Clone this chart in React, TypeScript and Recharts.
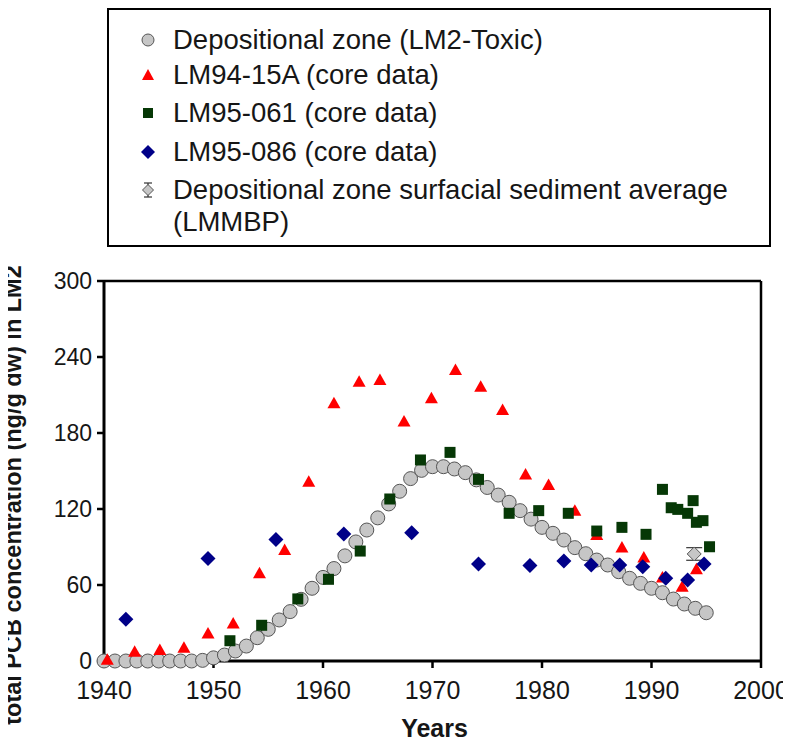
import React from "react";
import {
  ScatterChart,
  Scatter,
  XAxis,
  YAxis,
  ErrorBar,
  ReferenceLine,
  Legend,
  Label,
} from "recharts";

const FONT = '"Liberation Sans", Arial, Helvetica, sans-serif';
const TEXT = "#161616";

// Depositional zone model (LM2-Toxic), yearly
const modelYears = [
  1940, 1941, 1942, 1943, 1944, 1945, 1946, 1947, 1948, 1949,
  1950, 1951, 1952, 1953, 1954, 1955, 1956, 1957, 1958, 1959,
  1960, 1961, 1962, 1963, 1964, 1965, 1966, 1967, 1968, 1969,
  1970, 1971, 1972, 1973, 1974, 1975, 1976, 1977, 1978, 1979,
  1980, 1981, 1982, 1983, 1984, 1985, 1986, 1987, 1988, 1989,
  1990, 1991, 1992, 1993, 1994, 1995,
];
const modelValues = [
  0, 0, 0, 0, 0, 0, 0, 0, 0, 0.5,
  2.5, 4.7, 7.9, 11.8, 18.4, 25, 32.4, 39, 48.7, 57.4,
  66, 73, 83, 94, 103.4, 113, 124, 134, 144, 150.5,
  153.4, 153.4, 151.6, 148.7, 143, 137, 131, 125.3, 118.7, 112,
  105.5, 100.8, 95.5, 89.5, 84.7, 79.7, 75.8, 70.5, 65.3, 61.3,
  57.4, 53.9, 48.9, 45, 41.6, 38.1,
];

// Core LM94-15A
const coreAYears = [
  1940.3, 1942.8, 1945.1, 1947.3, 1949.5, 1951.8, 1954.2, 1956.5, 1958.7,
  1961, 1963.3, 1965.2, 1967.4, 1969.9, 1972.1, 1974.4, 1976.4, 1978.5,
  1980.6, 1983, 1985, 1987.3, 1989.3, 1991, 1992.8, 1994.1,
];
const coreAValues = [
  1, 7.4, 8.7, 10.5, 21.8, 29.7, 69.2, 87.6, 141.5,
  203.4, 220.5, 221.8, 189, 207.4, 229.7, 216.6, 198.2, 147.2,
  139, 118.7, 99.5, 89.7, 81.8, 66, 58.7, 72.4,
];

// Core LM95-061
const coreBYears = [
  1951.5, 1954.4, 1957.7, 1960.5, 1963.4, 1966.1, 1968.9, 1971.6, 1974.2,
  1977, 1979.7, 1982.4, 1985, 1987.3, 1989.5, 1991, 1991.8, 1992.4,
  1993.3, 1993.8, 1994.1, 1994.7, 1995.3,
];
const coreBValues = [
  16, 28.2, 49, 64.5, 86.8, 127.9, 158.7, 164.7, 143.4,
  116.6, 118.7, 116.6, 102.6, 105.5, 100, 135.5, 121, 119.7,
  116.6, 126.6, 109.5, 110.8, 90.2,
];

// Core LM95-086
const coreCYears = [
  1942, 1949.5, 1955.7, 1961.9, 1968.1, 1974.2, 1978.9, 1982, 1984.5,
  1987.1, 1989.2, 1991.3, 1993.3, 1994.8,
];
const coreCValues = [
  32.9, 81, 96, 100.3, 101.3, 76.6, 75.3, 79, 75.8,
  75.8, 74.5, 65.3, 64, 76.6,
];

// LMMBP surficial sediment average with its spread
const surfYears = [1993.9];
const surfValues = [84.5];
const surfErrors = [5];

const xTicks = [1940, 1950, 1960, 1970, 1980, 1990, 2000];
const yTicks = [0, 60, 120, 180, 240, 300];

const seriesLabels = [
  "Depositional zone (LM2-Toxic)",
  "LM94-15A (core data)",
  "LM95-061 (core data)",
  "LM95-086 (core data)",
  "Depositional zone surfacial sediment average (LMMBP)",
];

const toPoints = (xs: number[], ys: number[]) =>
  xs.map((x, i) => ({ year: x, v: ys[i] }));

const modelData = toPoints(modelYears, modelValues);
const coreAData = toPoints(coreAYears, coreAValues);
const coreBData = toPoints(coreBYears, coreBValues);
const coreCData = toPoints(coreCYears, coreCValues);
const surfData = surfYears.map((x, i) => ({
  year: x,
  v: surfValues[i],
  err: surfErrors[i],
}));

const GREY = "#c6c6c6";
const GREY_EDGE = "#555";
const RED = "#ff0000";
const GREEN = "#063806";
const NAVY = "#000088";

const CircleShape = (p: any) => (
  <circle cx={p.cx} cy={p.cy} r={7} fill={GREY} stroke={GREY_EDGE} strokeWidth={1} />
);
const TriangleShape = (p: any) => (
  <polygon
    points={`${p.cx},${p.cy - 6.5} ${p.cx - 6.5},${p.cy + 5} ${p.cx + 6.5},${p.cy + 5}`}
    fill={RED}
  />
);
const SquareShape = (p: any) => (
  <rect x={p.cx - 5.5} y={p.cy - 5.5} width={11} height={11} fill={GREEN} />
);
const DiamondShape = (p: any) => (
  <polygon
    points={`${p.cx},${p.cy - 7.5} ${p.cx + 7.5},${p.cy} ${p.cx},${p.cy + 7.5} ${p.cx - 7.5},${p.cy}`}
    fill={NAVY}
  />
);
const GreyDiamondShape = (p: any) => (
  <polygon
    points={`${p.cx},${p.cy - 7} ${p.cx + 7},${p.cy} ${p.cx},${p.cy + 7} ${p.cx - 7},${p.cy}`}
    fill={GREY}
    stroke={GREY_EDGE}
    strokeWidth={1}
  />
);

const legendMarkers = [
  <circle cx={8} cy={8} r={6} fill={GREY} stroke={GREY_EDGE} strokeWidth={1} />,
  <polygon points="8,2 2,13 14,13" fill={RED} />,
  <rect x={3} y={3} width={10} height={10} fill={GREEN} />,
  <polygon points="8,1 15,8 8,15 1,8" fill={NAVY} />,
  <g>
    <line x1={4} y1={1} x2={12} y2={1} stroke="#333" strokeWidth={1.2} />
    <line x1={4} y1={15} x2={12} y2={15} stroke="#333" strokeWidth={1.2} />
    <line x1={8} y1={1} x2={8} y2={15} stroke="#333" strokeWidth={1.2} />
    <polygon points="8,2.5 13.5,8 8,13.5 2.5,8" fill={GREY} stroke={GREY_EDGE} strokeWidth={1} />
  </g>,
];

const rowCenters = [30, 65, 103, 142, 180];

const renderLegend = () => (
  <div
    style={{
      position: "relative",
      width: 664,
      height: 239,
      border: "2.5px solid #000",
      boxSizing: "border-box",
      background: "#fff",
      fontFamily: FONT,
      color: TEXT,
    }}
  >
    {seriesLabels.map((label, i) => (
      <div
        key={label}
        style={{
          position: "absolute",
          left: 0,
          top: rowCenters[i] - 16,
          width: "100%",
        }}
      >
        <svg
          width={16}
          height={16}
          style={{ position: "absolute", left: 31, top: 8 }}
        >
          {legendMarkers[i]}
        </svg>
        <div
          style={{
            position: "absolute",
            left: 64,
            top: 0,
            width: 590,
            fontSize: 27.5,
            lineHeight: "32px",
            whiteSpace: "normal",
          }}
        >
          {label}
        </div>
      </div>
    ))}
  </div>
);

export default function App() {
  return (
    <div style={{ margin: -8 }}>
      <ScatterChart
        width={791}
        height={745}
        margin={{ top: 281, right: 30, bottom: 24, left: 44 }}
        style={{ fontFamily: FONT }}
      >
        <XAxis
          type="number"
          dataKey="year"
          domain={[1940, 2000]}
          ticks={xTicks}
          height={60}
          tickSize={7}
          tickMargin={13}
          axisLine={{ stroke: "#000", strokeWidth: 3 }}
          tickLine={{ stroke: "#000", strokeWidth: 2.5 }}
          tick={{ fontSize: 25, fill: TEXT, fontFamily: FONT }}
          interval={0}
        >
          <Label
            content={(props: any) => {
              const vb = props.viewBox || { x: 104, width: 657, y: 661 };
              return (
                <text
                  x={vb.x + vb.width / 2 + 2}
                  y={737}
                  textAnchor="middle"
                  fontFamily={FONT}
                  fontWeight="bold"
                  fontSize={25}
                  fill={TEXT}
                >
                  Years
                </text>
              );
            }}
          />
        </XAxis>
        <YAxis
          type="number"
          dataKey="v"
          domain={[0, 300]}
          ticks={yTicks}
          width={60}
          tickSize={7}
          tickMargin={5}
          axisLine={{ stroke: "#000", strokeWidth: 3 }}
          tickLine={{ stroke: "#000", strokeWidth: 2.5 }}
          tick={{ fontSize: 23, fill: TEXT, fontFamily: FONT }}
          interval={0}
        >
          <Label
            content={() => (
              <text
                x={21}
                y={495}
                transform="rotate(-90 21 495)"
                textAnchor="middle"
                fontFamily={FONT}
                fontWeight="bold"
                fontSize={23.5}
                fill={TEXT}
              >
                total PCB concentration (ng/g dw) in LM2
              </text>
            )}
          />
        </YAxis>
        <ReferenceLine y={300} stroke="#000" strokeWidth={2.5} />
        <ReferenceLine x={2000} stroke="#000" strokeWidth={2.5} />
        <Legend
          content={renderLegend}
          layout="horizontal"
          verticalAlign="middle"
          align="center"
          wrapperStyle={{ position: "absolute", left: 107, top: 8, width: 664, height: 239 }}
        />
        <Scatter
          name={seriesLabels[0]}
          data={modelData}
          shape={CircleShape}
          isAnimationActive={false}
        />
        <Scatter
          name={seriesLabels[1]}
          data={coreAData}
          shape={TriangleShape}
          isAnimationActive={false}
        />
        <Scatter
          name={seriesLabels[2]}
          data={coreBData}
          shape={SquareShape}
          isAnimationActive={false}
        />
        <Scatter
          name={seriesLabels[3]}
          data={coreCData}
          shape={DiamondShape}
          isAnimationActive={false}
        />
        <Scatter
          name={seriesLabels[4]}
          data={surfData}
          shape={GreyDiamondShape}
          isAnimationActive={false}
        >
          <ErrorBar dataKey="err" direction="y" width={8} stroke="#444" strokeWidth={1.3} />
        </Scatter>
      </ScatterChart>
    </div>
  );
}
